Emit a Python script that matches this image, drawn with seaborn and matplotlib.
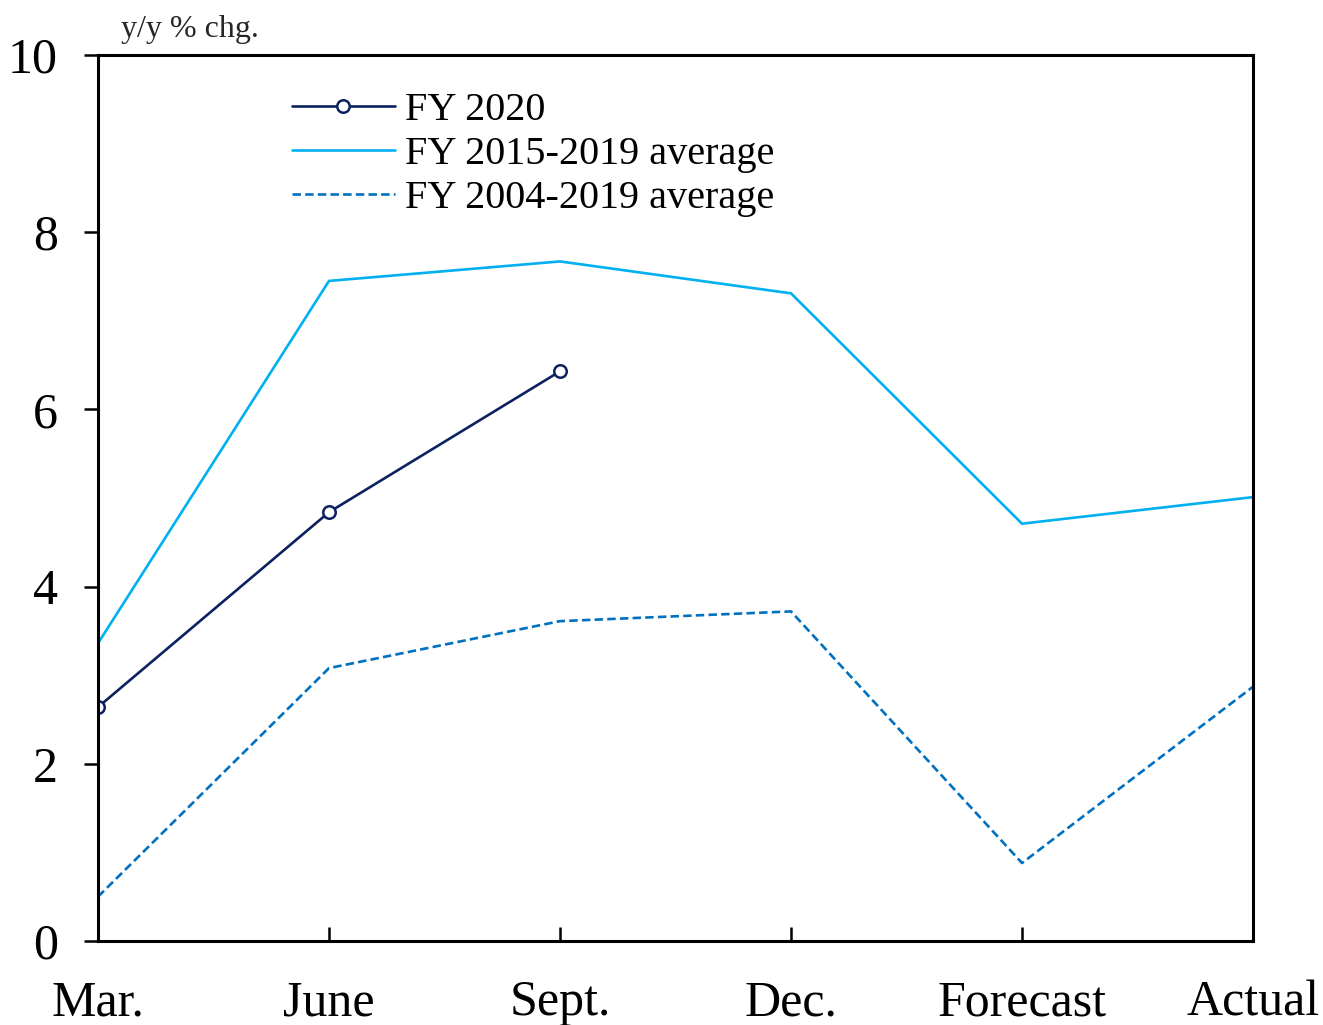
import numpy as np
import pandas as pd
import seaborn as sns
import matplotlib.pyplot as plt

categories = ['Mar.', 'June', 'Sept.', 'Dec.', 'Forecast', 'Actual']
fy2020 = [2.64, 4.84, 6.43]
avg_2015_2019 = [3.36, 7.45, 7.67, 7.31, 4.71, 5.01]
avg_2004_2019 = [0.50, 3.08, 3.61, 3.72, 0.88, 2.87]

sns.set_theme(style='white')
plt.rcParams['font.family'] = ['Liberation Serif', 'DejaVu Serif']

fig = plt.figure(figsize=(13.23, 10.25), dpi=100)
ax = fig.add_axes([98 / 1323, 1 - 941 / 1025, (1253 - 98) / 1323, (941 - 55) / 1025])

pos = np.arange(len(categories))

sns.lineplot(x=pos[:len(fy2020)], y=fy2020, ax=ax, color='#0c2160', lw=1.9,
             marker='o', markersize=9, markerfacecolor='white',
             markeredgecolor='#0c2160', markeredgewidth=1.8, label='FY 2020')
sns.lineplot(x=pos, y=avg_2015_2019, ax=ax, color='#00b0f0', lw=1.9,
             label='FY 2015-2019 average')
sns.lineplot(x=pos, y=avg_2004_2019, ax=ax, color='#0070c0', lw=1.9,
             linestyle=(0, (3.2, 1.6)), label='FY 2004-2019 average')

ax.set_xlim(0, 5)
ax.set_ylim(0, 10)
ax.set_xticks(pos)
ax.set_xticklabels(categories, fontsize=36)
ax.set_yticks([0, 2, 4, 6, 8, 10])
ax.set_yticklabels(['0', '2', '4', '6', '8', '10'], fontsize=36)

ax.tick_params(axis='x', direction='in', length=10, width=1.8, pad=28,
               colors='black', bottom=True)
ax.tick_params(axis='y', direction='out', length=10, width=1.8, pad=19,
               colors='black', left=True)
for s in ax.spines.values():
    s.set_visible(True)
    s.set_color('black')
    s.set_linewidth(2.2)

ax.text(0.02, 1.012, 'y/y % chg.', transform=ax.transAxes, fontsize=23,
        ha='left', va='bottom')

leg = ax.legend(loc='upper left', bbox_to_anchor=(0.154, 0.977), frameon=False,
                fontsize=29, handlelength=2.55, handletextpad=0.25,
                labelspacing=0.17, borderaxespad=0)
for t in leg.get_texts():
    t.set_color('black')

fig.savefig('out.png', dpi=100)
